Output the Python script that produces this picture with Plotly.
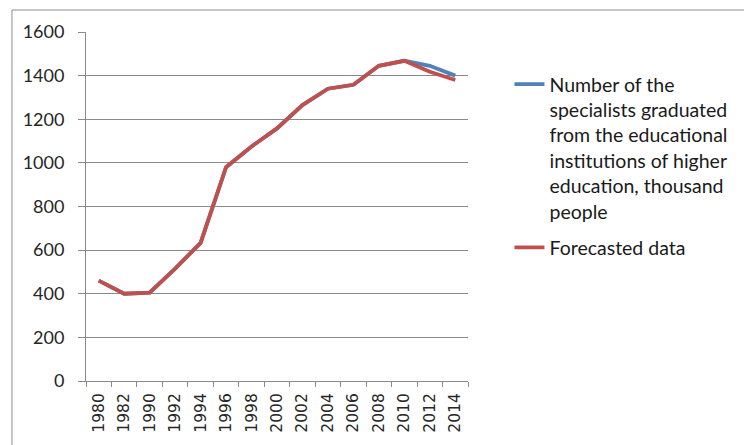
import plotly.graph_objects as go

# Graduates of higher-education institutions, thousand people
years = ["1980", "1982", "1990", "1992", "1994", "1996", "1998", "2000",
         "2002", "2004", "2006", "2008", "2010", "2012", "2014"]
actual = [460, 400, 405, 515, 633, 980, 1075, 1158, 1265, 1340, 1358, 1445, 1468, 1445, 1400]
forecast = [460, 400, 405, 515, 633, 980, 1075, 1158, 1265, 1340, 1358, 1445, 1468, 1418, 1380]

actual_name = ("Number of the<br>specialists graduated<br>from the educational<br>"
               "institutions of higher<br>education, thousand<br>people")
forecast_name = "Forecasted data"

W, H = 744, 445
L, R, T, B = 86, 271, 32, 64
pw, ph = W - L - R, H - T - B

def px_x(p):
    return (p - L) / pw

def px_y(p):
    return (H - B - p) / ph

grid = "#8a8a8a"

fig = go.Figure()
fig.add_trace(go.Scatter(x=years, y=actual, mode="lines", name=actual_name,
                         legendgroup="a",
                         line=dict(color="#4F81BD", width=3.8)))
fig.add_trace(go.Scatter(x=years, y=forecast, mode="lines", name=forecast_name,
                         legendgroup="b",
                         line=dict(color="#C0504D", width=3.8)))

fig.update_layout(
    width=W, height=H,
    margin=dict(l=L, r=R, t=T, b=B),
    paper_bgcolor="white", plot_bgcolor="white",
    showlegend=True,
    legend=dict(x=px_x(515), y=px_y(65), xanchor="left", yanchor="top",
                valign="top", tracegroupgap=8,
                font=dict(family="Lato", size=19.5, color="#1a1a1a"),
                bgcolor="rgba(0,0,0,0)"),
    xaxis=dict(type="category", range=[-0.5, len(years) - 0.5],
               showgrid=False, showline=True, linecolor=grid, linewidth=1,
               ticks="outside", tickson="boundaries", ticklen=5,
               tickcolor=grid, tickangle=-90, ticklabelstandoff=5,
               tickfont=dict(family="DejaVu Sans", size=15.5, color="#262626")),
    yaxis=dict(range=[0, 1600], dtick=200, showgrid=True, gridcolor=grid,
               gridwidth=1, showline=True, linecolor=grid, linewidth=1,
               ticks="outside", ticklen=7, tickcolor=grid,
               ticklabelstandoff=10, zeroline=False,
               tickfont=dict(family="Lato", size=18, color="#262626")),
    shapes=[dict(type="rect", xref="paper", yref="paper",
                 x0=px_x(11), x1=px_x(760), y0=px_y(460), y1=px_y(10),
                 line=dict(color="#8c8c8c", width=1), layer="below")],
)

fig.write_html("out.html")
